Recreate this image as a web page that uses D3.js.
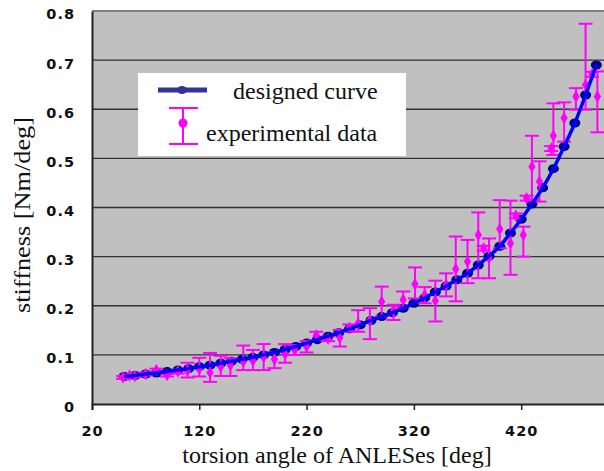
<!DOCTYPE html>
<html lang="en">
<head>
    <meta charset="UTF-8">
    <title>stiffness vs torsion angle</title>
    <script src="https://d3js.org/d3.v7.min.js"></script>
    <style>
        body { margin: 0; background: #fff; }
        .tick-label { font-family: "DejaVu Sans", sans-serif; font-weight: bold; font-size: 14.5px; letter-spacing: 1px; fill: #111; }
        .title { font-family: "Liberation Serif", "Times New Roman", serif; font-size: 24px; fill: #111; }
    </style>
</head>
<body>
<div id="chart"></div>
<script>
    // designed curve (every 10 deg)
    const designAngle = [50, 60, 70, 80, 90, 100, 110, 120, 130, 140, 150, 160, 170, 180, 190,
        200, 210, 220, 230, 240, 250, 260, 270, 280, 290, 300, 310, 320, 330, 340,
        350, 360, 370, 380, 390, 400, 410, 420, 430, 440, 450, 460, 470, 480, 490];
    const designStiffness = [0.056, 0.058, 0.061, 0.063, 0.066, 0.069, 0.072, 0.076, 0.079, 0.083,
        0.087, 0.091, 0.095, 0.100, 0.105, 0.111, 0.117, 0.124, 0.131, 0.138,
        0.145, 0.153, 0.161, 0.170, 0.178, 0.186, 0.195, 0.205, 0.216, 0.228,
        0.240, 0.253, 0.266, 0.283, 0.301, 0.321, 0.348, 0.376, 0.407, 0.440,
        0.479, 0.524, 0.572, 0.629, 0.690];

    // experimental data: mean and error bar ends
    const expAngle = [49, 55, 60, 70, 80, 90, 100, 109, 120, 130, 140, 149, 161, 170, 180, 190,
        200, 209, 220, 229, 240, 251, 260, 268, 279, 290, 301, 310, 321, 330, 340, 350,
        359, 370, 380, 385, 390, 400, 410, 415, 422, 425, 430, 437, 448, 450, 460, 471,
        480, 486, 491];
    const expMean = [0.054, 0.058, 0.057, 0.061, 0.069, 0.059, 0.066, 0.068, 0.071, 0.064, 0.076, 0.079, 0.086, 0.088, 0.096, 0.091,
        0.102, 0.110, 0.117, 0.140, 0.133, 0.135, 0.155, 0.164, 0.170, 0.208, 0.191, 0.212, 0.244, 0.222, 0.210, 0.242,
        0.275, 0.290, 0.344, 0.317, 0.297, 0.356, 0.327, 0.383, 0.344, 0.419, 0.483, 0.453, 0.520, 0.546, 0.582, 0.626,
        0.650, 0.671, 0.626];
    const expLow = [0.051, 0.056, 0.055, 0.058, 0.066, 0.056, 0.062, 0.054, 0.056, 0.045, 0.057, 0.057, 0.069, 0.069, 0.069, 0.073,
        0.084, 0.100, 0.105, 0.130, 0.128, 0.117, 0.148, 0.147, 0.132, 0.178, 0.171, 0.197, 0.215, 0.205, 0.168, 0.219,
        0.209, 0.246, 0.256, 0.312, 0.256, 0.317, 0.263, 0.378, 0.300, 0.414, 0.415, 0.412, 0.515, 0.507, 0.534, 0.599,
        0.599, 0.666, 0.553];
    const expHigh = [0.057, 0.060, 0.060, 0.064, 0.072, 0.062, 0.070, 0.084, 0.094, 0.104, 0.098, 0.093, 0.119, 0.110, 0.122, 0.106,
        0.122, 0.120, 0.128, 0.147, 0.138, 0.151, 0.162, 0.191, 0.195, 0.239, 0.202, 0.229, 0.278, 0.238, 0.251, 0.266,
        0.341, 0.334, 0.390, 0.322, 0.337, 0.415, 0.414, 0.388, 0.361, 0.424, 0.546, 0.494, 0.525, 0.612, 0.614, 0.643,
        0.774, 0.676, 0.677];

    const xTicks = [20, 120, 220, 320, 420];
    const yTicks = [0, 0.1, 0.2, 0.3, 0.4, 0.5, 0.6, 0.7, 0.8];

    const width = 604, height = 471;
    const svg = d3.select("#chart").append("svg")
        .attr("width", width)
        .attr("height", height);

    const x = d3.scaleLinear().domain([20, 520]).range([92, 628.5]);
    const y = d3.scaleLinear().domain([0, 0.8]).range([404, 11]);

    // plot background
    svg.append("rect")
        .attr("x", x(20)).attr("y", y(0.8))
        .attr("width", x(520) - x(20)).attr("height", y(0) - y(0.8))
        .attr("fill", "#c0c0c0");

    // gridlines
    svg.append("g").selectAll("line")
        .data(yTicks.filter(d => d > 0 && d < 0.8))
        .enter().append("line")
        .attr("x1", x(20)).attr("x2", width)
        .attr("y1", d => y(d)).attr("y2", d => y(d))
        .attr("stroke", "#333").attr("stroke-width", 1.3);

    // top border
    svg.append("line")
        .attr("x1", x(20)).attr("x2", width)
        .attr("y1", y(0.8)).attr("y2", y(0.8))
        .attr("stroke", "#808080").attr("stroke-width", 2);

    // axes
    const xAxis = svg.append("g")
        .attr("transform", `translate(0,${y(0)})`)
        .call(d3.axisBottom(x).tickValues(xTicks).tickSize(6).tickFormat(d3.format("d")));
    xAxis.select(".domain").attr("stroke", "#222").attr("stroke-width", 2);
    xAxis.selectAll(".tick line").attr("stroke", "#222").attr("stroke-width", 1.5);
    xAxis.selectAll(".tick text").attr("class", "tick-label").attr("dy", "1.6em");

    const yAxis = svg.append("g")
        .attr("transform", `translate(${x(20)},0)`)
        .call(d3.axisLeft(y).tickValues(yTicks).tickSize(0).tickFormat(d => d === 0 ? "0" : d3.format(".1f")(d)));
    yAxis.select(".domain").attr("stroke", "#222").attr("stroke-width", 2);
    yAxis.selectAll(".tick text").attr("class", "tick-label").attr("x", -17).attr("dy", "0.55em");

    // axis titles
    svg.append("text").attr("class", "title")
        .attr("x", 337).attr("y", 463)
        .attr("text-anchor", "middle")
        .text("torsion angle of ANLESes [deg]");
    svg.append("text").attr("class", "title")
        .attr("transform", "translate(30,215) rotate(-90)")
        .attr("text-anchor", "middle")
        .attr("textLength", 196)
        .attr("lengthAdjust", "spacingAndGlyphs")
        .text("stiffness [Nm/deg]");

    const design = designAngle.map((a, i) => ({ a: a, v: designStiffness[i] }));
    const exp = expAngle.map((a, i) => ({ a: a, v: expMean[i], lo: expLow[i], hi: expHigh[i] }));

    // designed curve markers
    svg.append("g").selectAll("ellipse")
        .data(design)
        .enter().append("ellipse")
        .attr("cx", d => x(d.a)).attr("cy", d => y(d.v))
        .attr("rx", 5.5).attr("ry", 4.5)
        .attr("fill", "#000080");

    // experimental error bars and diamonds
    const eg = svg.append("g").attr("stroke", "#ff00ff").attr("stroke-width", 2);
    eg.selectAll("line.bar").data(exp).enter().append("line")
        .attr("class", "bar")
        .attr("x1", d => x(d.a)).attr("x2", d => x(d.a))
        .attr("y1", d => y(d.lo)).attr("y2", d => y(d.hi));
    eg.selectAll("line.capHi").data(exp).enter().append("line")
        .attr("class", "capHi")
        .attr("x1", d => x(d.a) - 7).attr("x2", d => x(d.a) + 7)
        .attr("y1", d => y(d.hi)).attr("y2", d => y(d.hi));
    eg.selectAll("line.capLo").data(exp).enter().append("line")
        .attr("class", "capLo")
        .attr("x1", d => x(d.a) - 7).attr("x2", d => x(d.a) + 7)
        .attr("y1", d => y(d.lo)).attr("y2", d => y(d.lo));
    svg.append("g").selectAll("path")
        .data(exp)
        .enter().append("path")
        .attr("d", d3.symbol().type(d3.symbolDiamond).size(45))
        .attr("transform", d => `translate(${x(d.a)},${y(d.v)})`)
        .attr("fill", "#ff00ff");

    // designed curve line
    const line = d3.line().x(d => x(d.a)).y(d => y(d.v)).curve(d3.curveMonotoneX);
    svg.append("path")
        .datum(design)
        .attr("d", line)
        .attr("fill", "none")
        .attr("stroke", "#0000ff")
        .attr("stroke-width", 3.5);

    // legend
    const lg = svg.append("g");
    lg.append("rect").attr("x", 138).attr("y", 73).attr("width", 268).attr("height", 83).attr("fill", "#fff");
    lg.append("line").attr("x1", 158).attr("x2", 207).attr("y1", 90).attr("y2", 90)
        .attr("stroke", "#333399").attr("stroke-width", 5);
    lg.append("ellipse").attr("cx", 182).attr("cy", 90).attr("rx", 5).attr("ry", 4).attr("fill", "#333399");
    lg.append("text").attr("class", "title").attr("x", 233).attr("y", 99).text("designed curve");

    lg.append("line").attr("x1", 183).attr("x2", 183).attr("y1", 108).attr("y2", 144)
        .attr("stroke", "#ff00ff").attr("stroke-width", 2);
    lg.append("line").attr("x1", 169).attr("x2", 198).attr("y1", 108).attr("y2", 108)
        .attr("stroke", "#ff00ff").attr("stroke-width", 2);
    lg.append("line").attr("x1", 169).attr("x2", 198).attr("y1", 144).attr("y2", 144)
        .attr("stroke", "#ff00ff").attr("stroke-width", 2);
    lg.append("circle").attr("cx", 183).attr("cy", 123).attr("r", 4.5).attr("fill", "#ff00ff");
    lg.append("text").attr("class", "title").attr("x", 206).attr("y", 141).text("experimental data");
</script>
</body>
</html>
